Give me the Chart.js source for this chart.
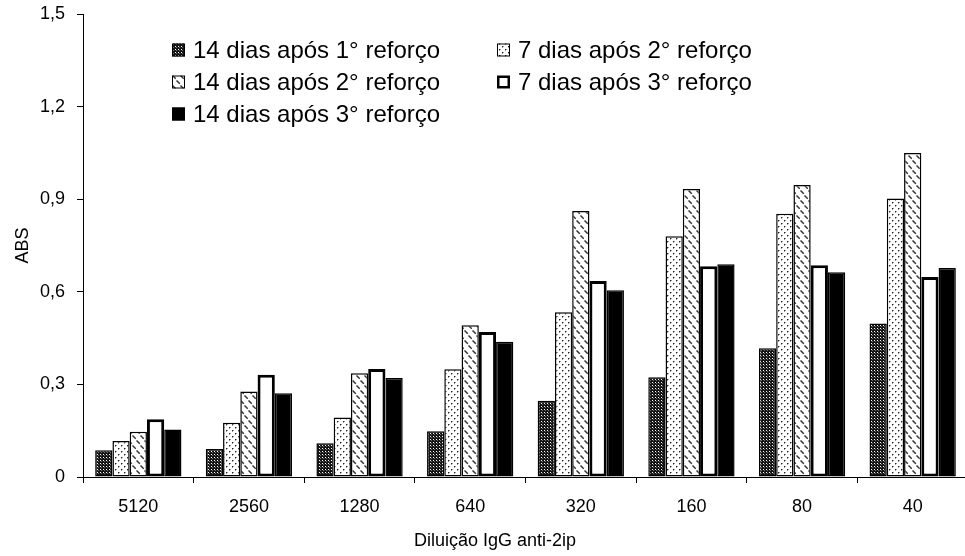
<!DOCTYPE html>
<html><head><meta charset="utf-8">
<script src="https://cdn.jsdelivr.net/npm/chart.js@4"></script>
<style>html,body{margin:0;padding:0;background:#fff;overflow:hidden}
#wrap{position:relative;width:968px;height:556px}</style>
</head><body><div id="wrap"><canvas id="c"></canvas></div>
<script>
const categories = ['5120','2560','1280','640','320','160','80','40'];
const seriesLabels = ['14 dias após 1° reforço','7 dias após 2° reforço','14 dias após 2° reforço','7 dias após 3° reforço','14 dias após 3° reforço'];
const d14r1 = [0.087,0.091,0.109,0.148,0.247,0.323,0.417,0.497];
const d7r2  = [0.117,0.176,0.193,0.349,0.534,0.780,0.853,0.902];
const d14r2 = [0.147,0.277,0.336,0.492,0.862,0.933,0.946,1.050];
const d7r3  = [0.187,0.331,0.350,0.470,0.635,0.683,0.686,0.648];
const d14r3 = [0.154,0.271,0.321,0.438,0.605,0.689,0.663,0.677];
const yTickLabels = ['0','0,3','0,6','0,9','1,2','1,5'];
const yAxisTitle = 'ABS';
const xAxisTitle = 'Diluição IgG anti-2ip';

const FONT = "'Liberation Sans', Arial, Helvetica, sans-serif";
Chart.defaults.font.family = FONT;
Chart.defaults.color = '#000';

function pattern(kind){
  const c = document.createElement('canvas');
  const x = c.getContext('2d');
  if (kind === 'dense') {
    c.width = 3; c.height = 3;
    x.fillStyle = '#151515'; x.fillRect(0,0,3,3);
    x.fillStyle = '#ffffff'; x.fillRect(1,1,1,1);
    x.fillStyle = '#707070'; x.fillRect(2,2,1,1);
  } else if (kind === 'dots') {
    c.width = 6; c.height = 6;
    x.fillStyle = '#fff'; x.fillRect(0,0,6,6);
    x.fillStyle = '#222'; x.fillRect(1,1,1,1); x.fillRect(4,4,1,1);
    x.fillStyle = '#999'; x.fillRect(2,1,1,1); x.fillRect(1,2,1,1); x.fillRect(5,4,1,1); x.fillRect(4,5,1,1);
  } else if (kind === 'diag') {
    c.width = 8; c.height = 10;
    x.fillStyle = '#fff'; x.fillRect(0,0,8,10);
    x.strokeStyle = '#333'; x.lineWidth = 1.5;
    x.beginPath(); x.moveTo(0.5,0.5); x.lineTo(3.8,3.8); x.stroke();
    x.beginPath(); x.moveTo(4.5,5.5); x.lineTo(7.8,8.8); x.stroke();
  }
  return x.createPattern(c, 'repeat');
}

const fills = [pattern('dense'), pattern('dots'), pattern('diag'), '#ffffff', '#000000'];
const borders = [1.5, 1.5, 1.5, 3, 1.5];
const seriesData = [d14r1, d7r2, d14r2, d7r3, d14r3];

const datasets = seriesLabels.map((lab, i) => ({
  label: lab,
  data: seriesData[i],
  backgroundColor: fills[i],
  borderColor: '#000',
  borderWidth: borders[i],
  borderSkipped: false,
  categoryPercentage: 0.78,
  barPercentage: 1.0
}));

const legendPlugin = {
  id: 'customLegend',
  afterDraw(chart){
    const ctx = chart.ctx;
    const pos = [[172,50],[497,50],[172,82],[497,82],[172,114]];
    ctx.save();
    ctx.font = '24px ' + FONT;
    ctx.textBaseline = 'middle';
    ctx.textAlign = 'left';
    chart.data.datasets.forEach((ds, i) => {
      const [sx, sy] = pos[i];
      const s = 13;
      ctx.fillStyle = ds.backgroundColor;
      ctx.fillRect(sx, sy - s/2, s, s);
      ctx.strokeStyle = '#000';
      const bw = i === 3 ? 2.5 : 1;
      ctx.lineWidth = bw;
      ctx.strokeRect(sx + bw/2, sy - s/2 + bw/2, s - bw, s - bw);
      ctx.fillStyle = '#000';
      ctx.fillText(ds.label, sx + s + 8, sy + 1);
    });
    ctx.restore();
  }
};

const xTitlePlugin = {
  id: 'xTitle',
  afterDraw(chart){
    const ctx = chart.ctx;
    ctx.save();
    ctx.font = '18px ' + FONT;
    ctx.fillStyle = '#000';
    ctx.textAlign = 'center';
    ctx.textBaseline = 'middle';
    ctx.fillText(xAxisTitle, 495, 541);
    ctx.restore();
  }
};

new Chart(document.getElementById('c'), {
  type: 'bar',
  data: { labels: categories, datasets },
  options: {
    responsive: true,
    maintainAspectRatio: false,
    animation: false,
    layout: { padding: { top: 14, right: 0, bottom: 0, left: 0 } },
    plugins: { legend: { display: false }, tooltip: { enabled: false } },
    scales: {
      x: {
        grid: { display: true, drawOnChartArea: false, drawTicks: true, tickLength: 6, color: '#000', offset: true },
        border: { display: true, color: '#000', width: 1 },
        ticks: { color: '#000', font: { size: 18 }, padding: 13, maxRotation: 0 },
        afterFit(s){ s.height = 79; }
      },
      y: {
        min: 0, max: 1.5,
        grid: { display: true, drawOnChartArea: false, drawTicks: true, tickLength: 6, color: '#000' },
        border: { display: true, color: '#000', width: 1 },
        ticks: { stepSize: 0.3, color: '#000', font: { size: 18, lineHeight: 0.2 }, padding: 12,
          callback: (v, i) => yTickLabels[i] },
        title: { display: true, text: yAxisTitle, color: '#000', font: { size: 18 }, padding: { top: 12, bottom: 0 } },
        afterFit(s){ s.width = 83; }
      }
    }
  },
  plugins: [legendPlugin, xTitlePlugin]
});
</script>
</body></html>
